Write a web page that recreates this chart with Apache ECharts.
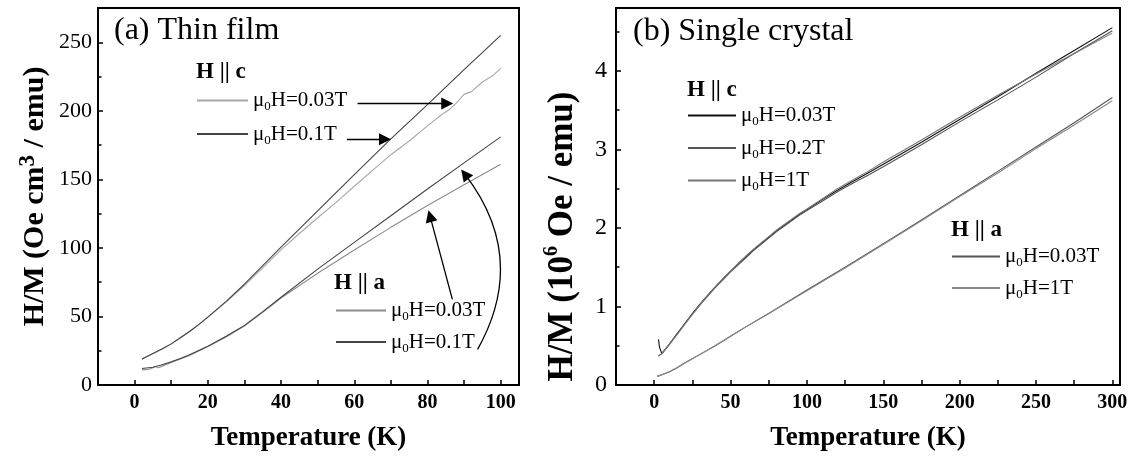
<!DOCTYPE html>
<html>
<head>
<meta charset="utf-8">
<script src="https://cdn.jsdelivr.net/npm/echarts@6/dist/echarts.min.js"></script>
<style>
  html, body { margin: 0; padding: 0; background: #fff; }
  #chart { width: 1137px; height: 457px; }
</style>
</head>
<body>
<div id="chart"></div>
<script>
// (a) thin film, H || c
const filmTempC01 = [2, 5, 8, 10, 12, 15, 17.5, 20, 25, 30, 35, 40, 50, 60, 70, 80, 90, 100]
const filmHc01 = [19, 23, 27, 30, 33.5, 39, 44, 49.5, 61, 73.5, 87, 100.5, 127, 153.5, 179.5, 204.5, 230, 255]
const filmTempC003 = [2, 5, 8, 10, 12, 15, 17.5, 20, 25, 30, 35, 40, 45, 50, 55, 60, 65, 70, 75, 80, 84, 86, 88, 90, 92, 95, 98, 100]
const filmHc003 = [19, 23, 27, 30, 33.5, 39, 44, 49.5, 60.5, 72.5, 85.5, 98.5, 110.5, 122, 133, 145, 156.5, 168, 178, 189, 197.5, 201, 206, 212, 214, 221, 226, 231]

// (a) thin film, H || a
const filmTempA01 = [2, 5, 7.5, 10, 12.5, 15, 20, 25, 30, 35, 40, 50, 60, 70, 80, 90, 100]
const filmHa01 = [12, 13, 14.8, 17, 19.4, 22, 28.3, 35.5, 43.5, 53.5, 64, 84.5, 104, 123.5, 143, 162, 181]
const filmTempA003 = [2, 4, 5.8, 6.5, 10, 15, 20, 25, 30, 35, 40, 50, 60, 70, 80, 90, 100]
const filmHa003 = [11, 11.5, 13.5, 12.5, 16.5, 21.5, 28, 35, 43, 53, 63.5, 81.5, 98.5, 115, 131, 146, 161]

// (b) single crystal, H || c
const crystalTempC = [2.8, 3.5, 5, 10, 15, 20, 25, 30, 35, 40, 45, 50, 55, 60, 65, 70, 75, 80, 85, 90, 95, 100, 110, 120, 130, 140, 150, 175, 200, 225, 250, 275, 300]
const crystalHc003 = [0.58, 0.48, 0.40, 0.52, 0.65, 0.78, 0.91, 1.03, 1.14, 1.25, 1.35, 1.45, 1.54, 1.63, 1.72, 1.80, 1.88, 1.96, 2.03, 2.10, 2.17, 2.23, 2.36, 2.48, 2.59, 2.70, 2.81, 3.09, 3.38, 3.67, 3.97, 4.26, 4.55]
const crystalHc02 = [0.37, 0.38, 0.40, 0.52, 0.65, 0.78, 0.90, 1.02, 1.13, 1.24, 1.34, 1.44, 1.53, 1.62, 1.71, 1.79, 1.87, 1.95, 2.02, 2.09, 2.16, 2.22, 2.34, 2.46, 2.57, 2.67, 2.78, 3.06, 3.35, 3.63, 3.92, 4.22, 4.51]
const crystalHc1 = [0.37, 0.38, 0.40, 0.52, 0.64, 0.77, 0.90, 1.02, 1.14, 1.25, 1.35, 1.45, 1.55, 1.64, 1.73, 1.81, 1.89, 1.97, 2.04, 2.11, 2.18, 2.24, 2.37, 2.50, 2.61, 2.72, 2.84, 3.12, 3.41, 3.69, 3.96, 4.22, 4.48]

// (b) single crystal, H || a
const crystalTempA = [2, 5, 10, 15, 20, 30, 40, 50, 60, 75, 100, 125, 150, 175, 200, 225, 250, 275, 300]
const crystalHa003 = [0.11, 0.13, 0.17, 0.22, 0.28, 0.39, 0.50, 0.62, 0.74, 0.91, 1.21, 1.50, 1.80, 2.10, 2.41, 2.72, 3.03, 3.34, 3.66]
const crystalHa1 = [0.11, 0.13, 0.17, 0.22, 0.28, 0.39, 0.50, 0.62, 0.74, 0.91, 1.20, 1.49, 1.79, 2.09, 2.40, 2.70, 3.01, 3.31, 3.62]

// legend field text per series
const fieldLabels = {
  'film c 0.03T': '0.03T', 'film c 0.1T': '0.1T',
  'film a 0.03T': '0.03T', 'film a 0.1T': '0.1T',
  'crystal c 0.03T': '0.03T', 'crystal c 0.2T': '0.2T', 'crystal c 1T': '1T',
  'crystal a 0.03T': '0.03T', 'crystal a 1T': '1T'
}

// arrows of panel (a), [from, to] in data units
const filmArrows = [
  [[60.9, 205.4], [85.4, 205.4]],
  [[58, 179.3], [68.4, 179.3]],
  [[86.8, 62.5], [80.7, 123.2]]
]
const filmCurvedArrow = [[93.7, 26], [90.2, 153.8]]

const serif = '"Liberation Serif", "Times New Roman", serif'

function zip(xs, ys) {
  return xs.map((x, i) => [x, ys[i]])
}

function lineSeries(name, gridIdx, xs, ys, color) {
  return {
    name,
    type: 'line',
    xAxisIndex: gridIdx,
    yAxisIndex: gridIdx,
    data: zip(xs, ys),
    symbol: 'none',
    smooth: false,
    lineStyle: { color, width: 1.1 },
    itemStyle: { color },
    emphasis: { disabled: true },
    z: 3
  }
}

function arrowSeries(name, pairs, curveness) {
  return {
    name,
    type: 'lines',
    coordinateSystem: 'cartesian2d',
    xAxisIndex: 0,
    yAxisIndex: 0,
    silent: true,
    symbol: ['none', 'triangle'],
    symbolSize: [7, 12],
    lineStyle: { color: '#000', width: 1.3, opacity: 1, curveness },
    emphasis: { disabled: true },
    data: pairs.map((p) => ({ coords: p })),
    z: 4
  }
}

const legendRich = {
  u: { fontFamily: serif, fontSize: 21, color: '#000', lineHeight: 26 },
  s: { fontFamily: serif, fontSize: 13, color: '#000', lineHeight: 13, verticalAlign: 'bottom' },
  t: { fontFamily: serif, fontSize: 21, color: '#000', lineHeight: 26 }
}

function legendBox(names, left, firstRow, rowGap, itemWidth) {
  return {
    data: names,
    orient: 'vertical',
    left,
    top: firstRow - 13,
    padding: 0,
    itemWidth,
    itemHeight: 26,
    itemGap: rowGap - 26,
    selectedMode: false,
    itemStyle: { opacity: 0 },
    formatter: (name) => `{u|μ}{s|0}{t|H=${fieldLabels[name]}}`,
    textStyle: { rich: legendRich }
  }
}

function heading(text, left, centerY, size, bold) {
  return {
    text,
    left,
    top: centerY - size * 0.6,
    padding: 0,
    textStyle: {
      fontFamily: serif,
      fontSize: size,
      fontWeight: bold ? 'bold' : 'normal',
      color: '#000',
      lineHeight: size * 1.2
    }
  }
}

function xAxisOf(gridIndex, min, max, step, labelStep, labelMax) {
  return {
    type: 'value',
    gridIndex,
    min,
    max,
    interval: step,
    name: 'Temperature (K)',
    nameLocation: 'middle',
    nameGap: 40,
    nameTextStyle: { fontFamily: serif, fontSize: 27, fontWeight: 'bold', color: '#000' },
    axisLine: { onZero: false, lineStyle: { color: '#000', width: 2 } },
    axisTick: { inside: true, length: 5, lineStyle: { color: '#000', width: 1.5 } },
    axisLabel: {
      margin: 8,
      fontFamily: serif,
      fontSize: 20,
      fontWeight: 'bold',
      color: '#000',
      formatter: (v) => (v >= 0 && v <= labelMax && v % labelStep === 0 ? String(v) : '')
    },
    splitLine: { show: false }
  }
}

const option = {
  animation: false,
  backgroundColor: '#fff',
  grid: [
    { left: 98, top: 8, width: 421, height: 378, show: true, borderColor: '#000', borderWidth: 2 },
    { left: 616, top: 8, width: 504, height: 378, show: true, borderColor: '#000', borderWidth: 2 }
  ],
  title: [
    heading('(a) Thin film', 114, 31, 32, false),
    heading('H || c', 196, 72, 23, true),
    heading('H || a', 334, 283, 23, true),
    heading('(b) Single crystal', 633, 32, 32, false),
    heading('H || c', 687, 90, 23, true),
    heading('H || a', 951, 230, 23, true)
  ],
  legend: [
    legendBox(['film c 0.03T', 'film c 0.1T'], 196, 103, 36, 51),
    legendBox(['film a 0.03T', 'film a 0.1T'], 335, 313, 34, 50),
    legendBox(['crystal c 0.03T', 'crystal c 0.2T', 'crystal c 1T'], 687, 118, 35, 48),
    legendBox(['crystal a 0.03T', 'crystal a 1T'], 951, 259, 34, 48)
  ],
  xAxis: [
    xAxisOf(0, -10, 105, 10, 20, 100),
    xAxisOf(1, -25, 305, 25, 50, 300)
  ],
  yAxis: [
    {
      type: 'value',
      gridIndex: 0,
      min: 0,
      max: 275,
      interval: 50,
      name: '{b|H/M (Oe cm}{p|3}{b| / emu)}',
      nameLocation: 'middle',
      nameGap: 45,
      nameTextStyle: {
        rich: {
          b: { fontFamily: serif, fontSize: 30, fontWeight: 'bold', color: '#000', lineHeight: 36 },
          p: { fontFamily: serif, fontSize: 23, fontWeight: 'bold', color: '#000', lineHeight: 23, verticalAlign: 'top' }
        }
      },
      axisLine: { onZero: false, lineStyle: { color: '#000', width: 2 } },
      axisTick: { inside: true, length: 5, lineStyle: { color: '#000', width: 1.5 } },
      minorTick: { show: true, splitNumber: 2, length: 3.5, lineStyle: { color: '#000', width: 1.5 } },
      axisLabel: { margin: 6, fontFamily: serif, fontSize: 22, color: '#000', showMaxLabel: false },
      splitLine: { show: false }
    },
    {
      type: 'value',
      gridIndex: 1,
      min: 0,
      max: 4.8,
      interval: 1,
      name: '{b|H/M (10}{p|6}{b| Oe / emu)}',
      nameLocation: 'middle',
      nameGap: 33,
      nameTextStyle: {
        padding: [0, 80, 0, 0],
        rich: {
          b: { fontFamily: serif, fontSize: 35, fontWeight: 'bold', color: '#000', lineHeight: 41 },
          p: { fontFamily: serif, fontSize: 20, fontWeight: 'bold', color: '#000', lineHeight: 20, verticalAlign: 'top' }
        }
      },
      axisLine: { onZero: false, lineStyle: { color: '#000', width: 2 } },
      axisTick: { inside: true, length: 5, lineStyle: { color: '#000', width: 1.5 } },
      minorTick: { show: true, splitNumber: 2, length: 3.5, lineStyle: { color: '#000', width: 1.5 } },
      axisLabel: { margin: 9, fontFamily: serif, fontSize: 24, color: '#000', showMaxLabel: false },
      splitLine: { show: false }
    }
  ],
  series: [
    lineSeries('film c 0.03T', 0, filmTempC003, filmHc003, '#a8a8a8'),
    lineSeries('film c 0.1T', 0, filmTempC01, filmHc01, '#444'),
    lineSeries('film a 0.03T', 0, filmTempA003, filmHa003, '#8c8c8c'),
    lineSeries('film a 0.1T', 0, filmTempA01, filmHa01, '#444'),
    lineSeries('crystal c 0.03T', 1, crystalTempC, crystalHc003, '#111'),
    lineSeries('crystal c 0.2T', 1, crystalTempC, crystalHc02, '#555'),
    lineSeries('crystal c 1T', 1, crystalTempC, crystalHc1, '#777'),
    lineSeries('crystal a 0.03T', 1, crystalTempA, crystalHa003, '#555'),
    lineSeries('crystal a 1T', 1, crystalTempA, crystalHa1, '#888'),
    arrowSeries('arrows', filmArrows, 0),
    arrowSeries('curved arrow', [filmCurvedArrow], -0.33)
  ]
}

const chart = echarts.init(document.getElementById('chart'))
chart.setOption(option)
</script>
</body>
</html>
